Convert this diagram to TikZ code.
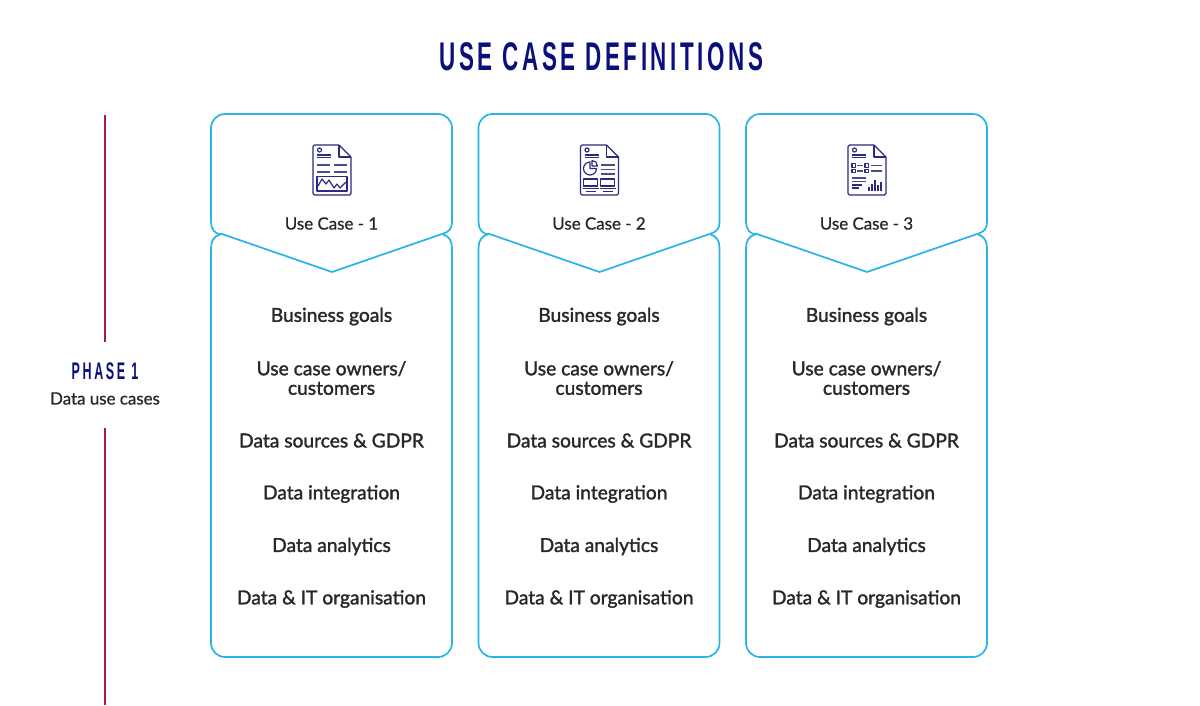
\documentclass[tikz,border=0pt]{standalone}
\usepackage{fontspec}
\setmainfont{Lato}
\newfontfamily\itemfont{Lato}[FakeBold=1.6]
\newfontfamily\labelfont{Lato}[FakeBold=0.8]
\newfontfamily\headfont{Liberation Sans Bold}[FakeStretch=0.56,LetterSpace=9]
\newfontfamily\phasefont{Liberation Sans Bold}[FakeStretch=0.52,LetterSpace=11]
\definecolor{navy}{HTML}{0B0F7C}
\definecolor{skyline}{HTML}{28B4E6}
\definecolor{crimson}{HTML}{A51C3C}
\definecolor{inktext}{HTML}{26282B}
\definecolor{iconink}{HTML}{2A2A80}
\tikzset{
  panel/.style={draw=skyline,line width=1.7pt,line join=round},
  itemlabel/.style={font=\itemfont\fontsize{19.2}{19.5}\selectfont,text=inktext,align=center,anchor=center,inner sep=0pt},
  caselabel/.style={font=\labelfont\fontsize{16.9}{18}\selectfont,text=inktext,anchor=center,inner sep=0pt},
  iconline/.style={draw=iconink,line width=1.2pt,line join=round},
  iconbar/.style={draw=iconink!85,line width=1.7pt},
  rail/.style={draw=crimson,line width=1.5pt}
}
% sheet outline with folded corner, shared by all the document icons
\newcommand{\sheet}{%
  \draw[iconline,rounded corners=1.5pt] (339,145) -- (313,145) -- (313,195) -- (351,195) -- (351,157);
  \draw[iconline] (339,145) -- (351,157);
  \draw[iconline] (339,145) -- (339,157) -- (351,157);
  \draw[iconline] (319.5,150) circle (2pt);
  \draw[iconline] (317,155) -- (331,155);
  \draw[iconline] (317,157.5) -- (331,157.5);
}
\newcommand{\docone}{%
  \sheet
  \foreach \yy in {165,172}{
    \draw[iconbar] (317,\yy) -- (330,\yy);
    \draw[iconbar] (334,\yy) -- (347,\yy);
  }
  \draw[iconline] (317,176.5) rectangle (347,191);
  \draw[iconline] (318,186) -- (322,179) -- (326,184) -- (329,180) -- (334,188) -- (337,184) -- (340,188) -- (346,182);
}
\newcommand{\doctwo}{%
  \sheet
  \draw[iconline] (322.5,168.5) -- (322.5,162) arc (90:360:6.5pt) -- cycle;
  \draw[iconline] (324.5,160.5) arc (90:0:5.5pt) -- (324.5,166) -- cycle;
  \foreach \yy in {165,169.5,174}{\draw[iconbar] (333,\yy) -- (347,\yy);}
  \draw[iconline] (316,179) rectangle (330,186);
  \draw[iconline] (333,179) rectangle (347,186);
  \draw[iconline] (315,188.5) -- (331,188.5);
  \draw[iconline] (332,188.5) -- (348,188.5);
  \draw[iconline] (318,191.5) -- (328,191.5);
  \draw[iconline] (335,191.5) -- (345,191.5);
}
\newcommand{\docthree}{%
  \sheet
  \foreach \yy in {165.5,171}{
    \draw[iconline] (317,\yy-1.7) rectangle (320.5,\yy+1.7);
    \draw[iconbar] (322,\yy) -- (328,\yy);
    \draw[iconline] (330,\yy-1.7) rectangle (333.5,\yy+1.7);
    \draw[iconbar] (336,\yy) -- (347,\yy);
  }
  \draw[iconbar] (317,178) -- (331,178);
  \draw[iconbar] (317,181.5) -- (331,181.5);
  \draw[iconline] (317,185) -- (327,185);
  \draw[iconline] (317,188) -- (324,188);
  \foreach \xx/\hh in {334/4,337/7,340/11,343/6,346/9}{
    \draw[iconline] (\xx,191) -- (\xx,191-\hh);
  }
}
% one use-case column: header with chevron, body panel, icon and labels
\newcommand{\casecolumn}[4]{%
  \begin{scope}[xshift=#1]
    \draw[panel] (222,234) .. controls (215,235) and (211,229) .. (211,222)
      [rounded corners=14pt] -- (211,114) -- (452,114) [sharp corners] -- (452,222)
      .. controls (452,229) and (449,232) .. (442,234) -- (332,272) -- cycle;
    \draw[panel] (220,234.5) .. controls (214,236) and (211,241) .. (211,248)
      [rounded corners=14pt] -- (211,657) -- (452,657) [sharp corners] -- (452,248)
      .. controls (452,241) and (449,236) .. (443,234.5);
    #3
    \node[caselabel] (case#2) at (331.5,223.5) {Use Case - #4};
    \node[itemlabel] (goals#2) at (331.5,316.5) {Business goals};
    \node[itemlabel] (owners#2) at (331.5,378) {Use case owners/\\customers};
    \node[itemlabel] (sources#2) at (331.5,440.5) {Data sources \& GDPR};
    \node[itemlabel] (integration#2) at (331.5,494) {Data integration};
    \node[itemlabel] (analytics#2) at (331.5,546.5) {Data analytics};
    \node[itemlabel] (organisation#2) at (331.5,599) {Data \& IT organisation};
  \end{scope}
}
\begin{document}
\begin{tikzpicture}[x=1pt,y=-1pt]
  \useasboundingbox (0,0) rectangle (1200,705);
  \fill[white] (0,0) rectangle (1200,705);
  \node[inner sep=0pt,text=navy,font=\headfont\fontsize{40}{44}\selectfont] (title) at (601.5,57) {USE CASE DEFINITIONS};
  \casecolumn{0pt}{a}{\docone}{1}
  \casecolumn{267.5pt}{b}{\doctwo}{2}
  \casecolumn{535pt}{c}{\docthree}{3}
  \node[inner sep=0pt,text=navy,font=\phasefont\fontsize{24}{26}\selectfont] (phase) at (105,371.5) {PHASE 1};
  \node[inner sep=0pt,text=inktext,font=\labelfont\fontsize{16.9}{18}\selectfont] (usecases) at (105,398.5) {Data use cases};
  \coordinate (railtop) at (105,115);
  \coordinate (railbottom) at (105,705);
  \coordinate (gaptop) at (105,342);
  \coordinate (gapbottom) at (105,428);
  \draw[rail] (railtop) -- (gaptop);
  \draw[rail] (gapbottom) -- (railbottom);
\end{tikzpicture}
\end{document}
